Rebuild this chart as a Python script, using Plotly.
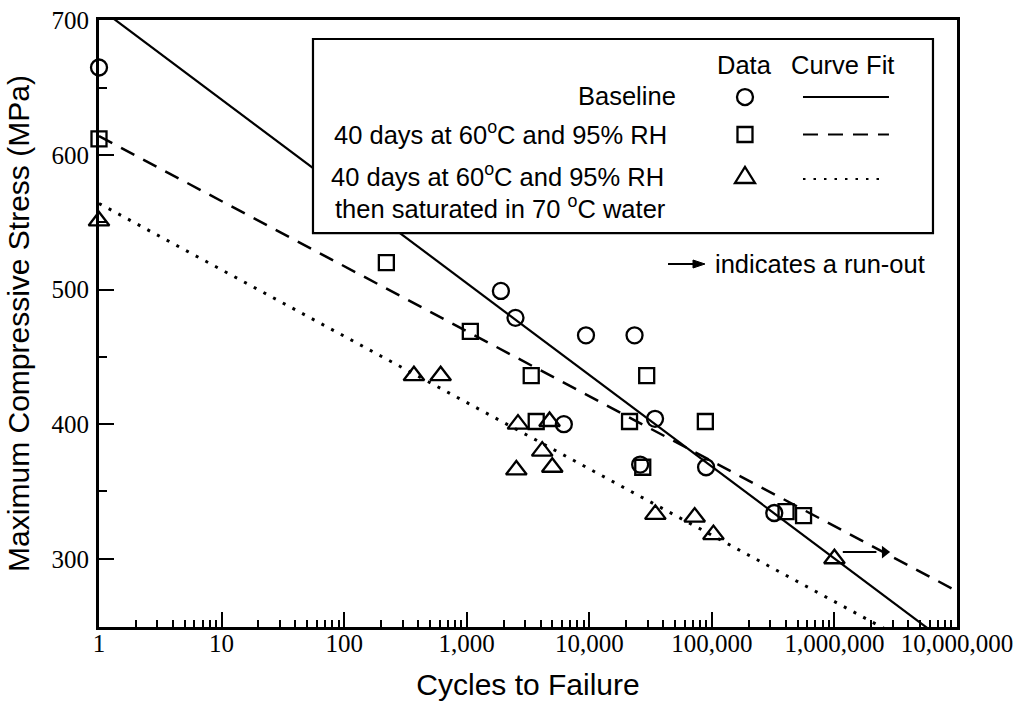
import plotly.graph_objects as go

# ---------------- data ----------------
baseline_cycles = [1, 1900, 2500, 6200, 9400, 23400, 26000, 34400, 89700, 323000]
baseline_stress = [665, 499, 479, 400, 466, 466, 370, 404, 368, 334]

humid_cycles = [1, 221, 1070, 3360, 3690, 21300, 27300, 29400, 88500, 403000, 560000]
humid_stress = [612, 520, 469, 436, 402, 402, 368, 436, 402, 335, 332]

saturated_cycles = [1, 371, 613, 2540, 2620, 4130, 4740, 4990, 34600, 72400, 103000, 1000000]
saturated_stress = [551, 436, 436, 366, 400, 380, 402, 368, 333, 331, 318, 300]

# run-out specimen (test stopped without failure)
runout_cycles = [1000000]
runout_stress = [300]

# curve-fit lines (stress at the two ends of the cycle range)
fit_cycles = [1, 10000000]
fit_baseline = [709.4, 232.0]
fit_humid = [614.0, 275.9]
fit_saturated = [564.0, 218.9]

x_tickvals = [1, 10, 100, 1000, 10000, 100000, 1000000, 10000000]
x_ticktext = ["1", "10", "100", "1,000", "10,000", "100,000", "1,000,000", "10,000,000"]
y_tickvals = [300, 400, 500, 600, 700]
y_ticktext = ["300", "400", "500", "600", "700"]

# ---------------- styling ----------------
INK = "black"
SANS = "Liberation Sans, Arial, sans-serif"
SERIF = "Liberation Serif, Times New Roman, serif"
DASH = "15px,10px"
DOT = "3px,8px"

fig = go.Figure()

for xs, ys, dash, w in [(fit_cycles, fit_baseline, "solid", 2.2),
                        (fit_cycles, fit_humid, DASH, 2.5),
                        (fit_cycles, fit_saturated, DOT, 3)]:
    fig.add_trace(go.Scatter(x=xs, y=ys, mode="lines",
                             line=dict(color=INK, width=w, dash=dash),
                             hoverinfo="skip"))

marker_line = dict(color=INK, width=2.3)
fig.add_trace(go.Scatter(x=baseline_cycles, y=baseline_stress, mode="markers",
                         marker=dict(symbol="circle-open", size=16, color=INK, line=marker_line),
                         cliponaxis=False, name="Baseline"))
fig.add_trace(go.Scatter(x=humid_cycles, y=humid_stress, mode="markers",
                         marker=dict(symbol="square-open", size=15, color=INK, line=marker_line),
                         cliponaxis=False, name="40 days at 60°C and 95% RH"))
fig.add_trace(go.Scatter(x=saturated_cycles, y=saturated_stress, mode="markers",
                         marker=dict(symbol="triangle-up-open", size=18, color=INK, line=marker_line),
                         cliponaxis=False, name="saturated"))

# run-out arrows: a short shaft to the right of the point with a filled head
for n, s in zip(runout_cycles, runout_stress):
    fig.add_trace(go.Scatter(x=[n * 1.17, n * 2.2], y=[s + 5, s + 5], mode="lines",
                             line=dict(color=INK, width=2), hoverinfo="skip"))
    fig.add_trace(go.Scatter(x=[n * 2.57], y=[s + 5], mode="markers",
                             marker=dict(symbol="triangle-right", size=11, color=INK,
                                         line=dict(width=0)),
                             cliponaxis=False, hoverinfo="skip"))

# ---------------- legend panel (paper coordinates of the plot area) ----------------
box = dict(x0=0.2494, x1=0.972, y0=0.649, y1=0.9687)
fig.add_shape(type="rect", xref="paper", yref="paper", layer="above",
              fillcolor="white", line=dict(color=INK, width=2.2), **box)

sym_x = 0.7529
rows_y = {"circle": 0.8731, "square": 0.8114, "triangle": 0.7430}
line_rows = [(0.8731, "solid", 0.9207), (0.8114, DASH, 0.9207), (0.7380, DOT, 0.9114)]

fig.add_shape(type="circle", xref="paper", yref="paper", xsizemode="pixel", ysizemode="pixel",
              xanchor=sym_x, yanchor=rows_y["circle"], x0=-8, x1=8, y0=-8, y1=8,
              line=dict(color=INK, width=2.3), layer="above")
fig.add_shape(type="rect", xref="paper", yref="paper", xsizemode="pixel", ysizemode="pixel",
              xanchor=sym_x, yanchor=rows_y["square"], x0=-7.5, x1=7.5, y0=-7.5, y1=7.5,
              line=dict(color=INK, width=2.3), layer="above")
fig.add_shape(type="path", xref="paper", yref="paper", xsizemode="pixel", ysizemode="pixel",
              xanchor=sym_x, yanchor=rows_y["triangle"], path="M-10,-7 L10,-7 L0,9 Z",
              line=dict(color=INK, width=2.3), layer="above")
for yv, dash, x_end in line_rows:
    fig.add_shape(type="line", xref="paper", yref="paper", x0=0.8205, x1=x_end, y0=yv, y1=yv,
                  line=dict(color=INK, width=2, dash=dash if dash != DOT else "2.5px,8px"),
                  layer="above")

# run-out key: shaft plus filled head
key_y = 0.5980
fig.add_shape(type="line", xref="paper", yref="paper", x0=0.6632, x1=0.6980, y0=key_y, y1=key_y,
              line=dict(color=INK, width=2), layer="above")
fig.add_shape(type="path", xref="paper", yref="paper", xsizemode="pixel", ysizemode="pixel",
              xanchor=0.7063, yanchor=key_y, path="M0,0 L-12,4 L-12,-4 Z",
              fillcolor=INK, line=dict(color=INK, width=1), layer="above")

legend_font = dict(family=SANS, size=25.5, color=INK)
labels = [
    ("Data", 0.7520, 0.9259, "center"),
    ("Curve Fit", 0.8671, 0.9259, "center"),
    ("Baseline", 0.6748, 0.8748, "right"),
    ("40 days at 60<sup>o</sup>C and 95% RH", 0.6643, 0.8138, "right"),
    ("40 days at 60<sup>o</sup>C and 95% RH", 0.6608, 0.7446, "right"),
    ("then saturated in 70 <sup>o</sup>C water", 0.6632, 0.6919, "right"),
    ("indicates a run-out", 0.7156, 0.5980, "left"),
]
for text, x, y, anchor in labels:
    fig.add_annotation(text=text, x=x, y=y, xref="paper", yref="paper",
                       xanchor=anchor, yanchor="middle", showarrow=False, font=legend_font)

# ---------------- axes ----------------
axis_common = dict(showline=True, linewidth=3, linecolor=INK, mirror=True,
                   ticks="inside", ticklen=15, tickwidth=2, tickcolor=INK,
                   showgrid=False, zeroline=False)

fig.update_xaxes(type="log", range=[0, 7], tickmode="array",
                 tickvals=x_tickvals, ticktext=x_ticktext,
                 tickfont=dict(family=SERIF, size=25, color=INK),
                 minor=dict(ticks="inside", ticklen=7, tickwidth=1.5, tickcolor=INK,
                            dtick="D1", showgrid=False),
                 title=dict(text="Cycles to Failure", font=dict(family=SANS, size=30, color=INK),
                            standoff=18),
                 ticklabelstandoff=-8,
                 **axis_common)
fig.update_yaxes(range=[249.3, 700.3], tickmode="array",
                 tickvals=y_tickvals, ticktext=y_ticktext,
                 tickfont=dict(family=SERIF, size=25, color=INK),
                 minor=dict(ticks="inside", ticklen=8, tickwidth=2, tickcolor=INK,
                            dtick=50, tick0=250, showgrid=False),
                 title=dict(text="Maximum Compressive Stress (MPa)",
                            font=dict(family=SANS, size=30, color=INK), standoff=14),
                 ticklabelstandoff=2,
                 **axis_common)

fig.update_layout(width=1022, height=705, margin=dict(l=99, r=65, t=20, b=78, autoexpand=False),
                  paper_bgcolor="white", plot_bgcolor="white", showlegend=False)

fig.write_html("out.html")
